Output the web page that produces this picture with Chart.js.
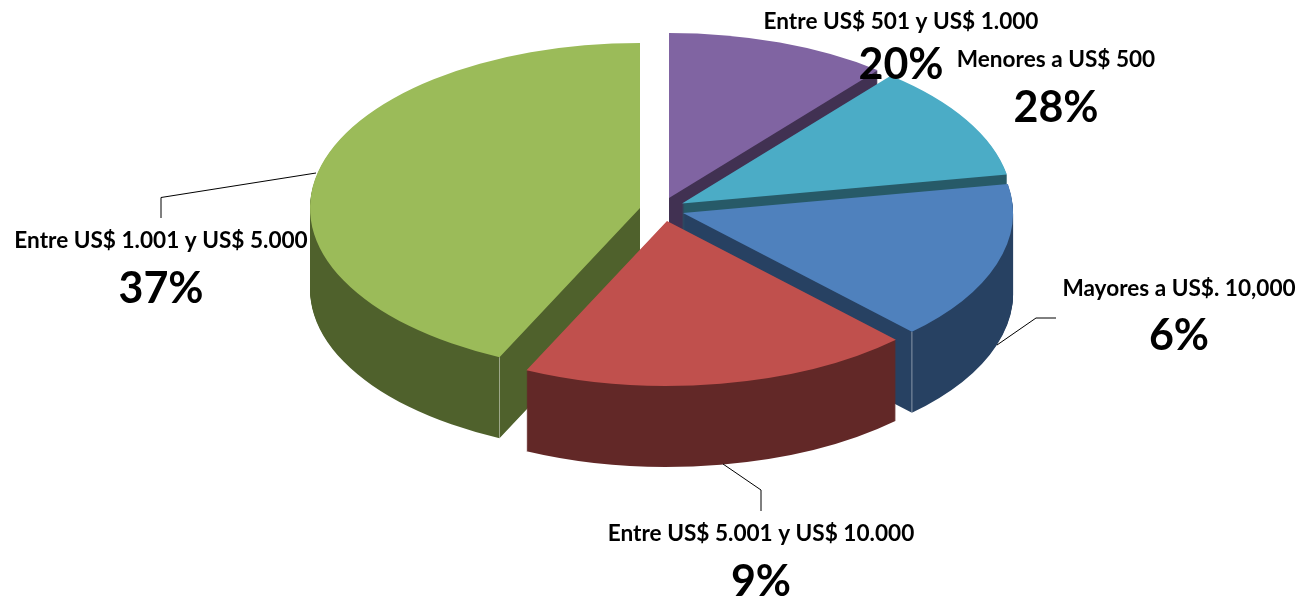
<!DOCTYPE html>
<html>
<head>
<meta charset="utf-8">
<style>html,body{margin:0;padding:0;background:#fff;overflow:hidden}canvas{display:block}</style>
<script src="https://cdn.jsdelivr.net/npm/chart.js@4"></script>
</head>
<body>
<div style="width:1306px;height:601px"><canvas id="c" width="1306" height="601"></canvas></div>
<script>
// Categories clockwise from 12 o'clock, as they appear in the picture
const categories = ["Entre US$ 501 y US$ 1.000","Menores a US$ 500","Mayores a US$. 10,000","Entre US$ 5.001 y US$ 10.000","Entre US$ 1.001 y US$ 5.000"];
// Printed percentages
const printedPercent = ["20%","28%","6%","9%","37%"];
// Slice shares as drawn in the picture (the drawn wedges do not follow the printed numbers)
const drawnShares = [10.9,11.3,15.6,19.2,43.0];
const topColors  = ["#8064a2","#4bacc6","#4f81bd","#c0504d","#9bbb59"];
const wallColors = ["#413152","#275a68","#274162","#622827","#4f612c"];
// Exploded-slice shift on screen
const shiftX = [9,22,23,7,-20];
const shiftY = [-12,-6.5,3,11,-2];
const drawOrder = [0,1,4,2,3];

const CX=660, CY=210, RX=330, TILT=0.5, DEPTH=81;
const labelFont='bold 22.6px Lato, Carlito, sans-serif', pctFont='bold 43px Lato, Carlito, sans-serif';
const labelPos=[[901,29,79],[1056,67,122],[1179,296,350],[761,541,596],[161,248,303]];
const leaders=[[[316,173],[161,197.5],[161,218]],[[997,345],[1036,318],[1056,318]],[[723,464],[761,490],[761,511]]];

const pie3d={
  id:'pie3d',
  beforeDatasetDraw(chart){
    const ctx=chart.ctx, arcs=chart.getDatasetMeta(0).data;
    const R=arcs[0].outerRadius, sx=RX/R, sy=RX*TILT/R;
    const place=(c,arc,i,d)=>{
      c.translate(CX+shiftX[i],CY+shiftY[i]+d); c.scale(sx,sy);
      c.translate(-arc.x,-arc.y);
    };
    const off=document.createElement('canvas');
    off.width=chart.width; off.height=chart.height;
    const oc=off.getContext('2d');
    drawOrder.forEach(i=>{
      const arc=arcs[i], base=arc.options;
      // side wall: extrude on a scratch layer, then flatten it to one colour
      oc.globalCompositeOperation='source-over';
      oc.clearRect(0,0,off.width,off.height);
      const wall=Object.create(base); wall.backgroundColor=wallColors[i];
      arc.options=wall;
      for(let d=DEPTH;d>=1;d--){oc.save();place(oc,arc,i,d);arc.draw(oc);oc.restore();}
      arc.options=base;
      oc.globalCompositeOperation='source-in';
      oc.fillStyle=wallColors[i];oc.fillRect(0,0,off.width,off.height);
      ctx.drawImage(off,0,0);
      ctx.save();place(ctx,arc,i,0);arc.draw(ctx);ctx.restore();
      // pale corner edge on the walls facing the viewer
      const corner = i===2?arc.endAngle : i===4?arc.startAngle : null;
      if(corner!==null){
        const x=CX+shiftX[i]+Math.cos(corner)*RX;
        const y=CY+shiftY[i]+Math.sin(corner)*RX*TILT;
        ctx.save();ctx.strokeStyle='rgba(255,255,255,.45)';ctx.lineWidth=1;
        ctx.beginPath();ctx.moveTo(x,y);ctx.lineTo(x,y+DEPTH);ctx.stroke();ctx.restore();
      }
    });
    return false;
  },
  afterDraw(chart){
    const ctx=chart.ctx;
    ctx.save();
    ctx.strokeStyle='#000';ctx.lineWidth=1;
    leaders.forEach(l=>{ctx.beginPath();l.forEach((p,j)=>j?ctx.lineTo(p[0],p[1]):ctx.moveTo(p[0],p[1]));ctx.stroke();});
    ctx.fillStyle='#000';ctx.textAlign='center';ctx.textBaseline='alphabetic';
    categories.forEach((t,i)=>{
      const [x,y1,y2]=labelPos[i];
      ctx.font=labelFont;ctx.fillText(t,x,y1);
      ctx.font=pctFont;ctx.fillText(printedPercent[i],x,y2);
    });
    ctx.restore();
  }
};

new Chart(document.getElementById('c'),{
  type:'pie',
  data:{labels:categories,datasets:[{data:drawnShares,backgroundColor:topColors,borderWidth:0}]},
  options:{
    responsive:false,animation:false,
    layout:{padding:0},
    plugins:{legend:{display:false},tooltip:{enabled:false}}
  },
  plugins:[pie3d]
});
</script>
</body>
</html>
